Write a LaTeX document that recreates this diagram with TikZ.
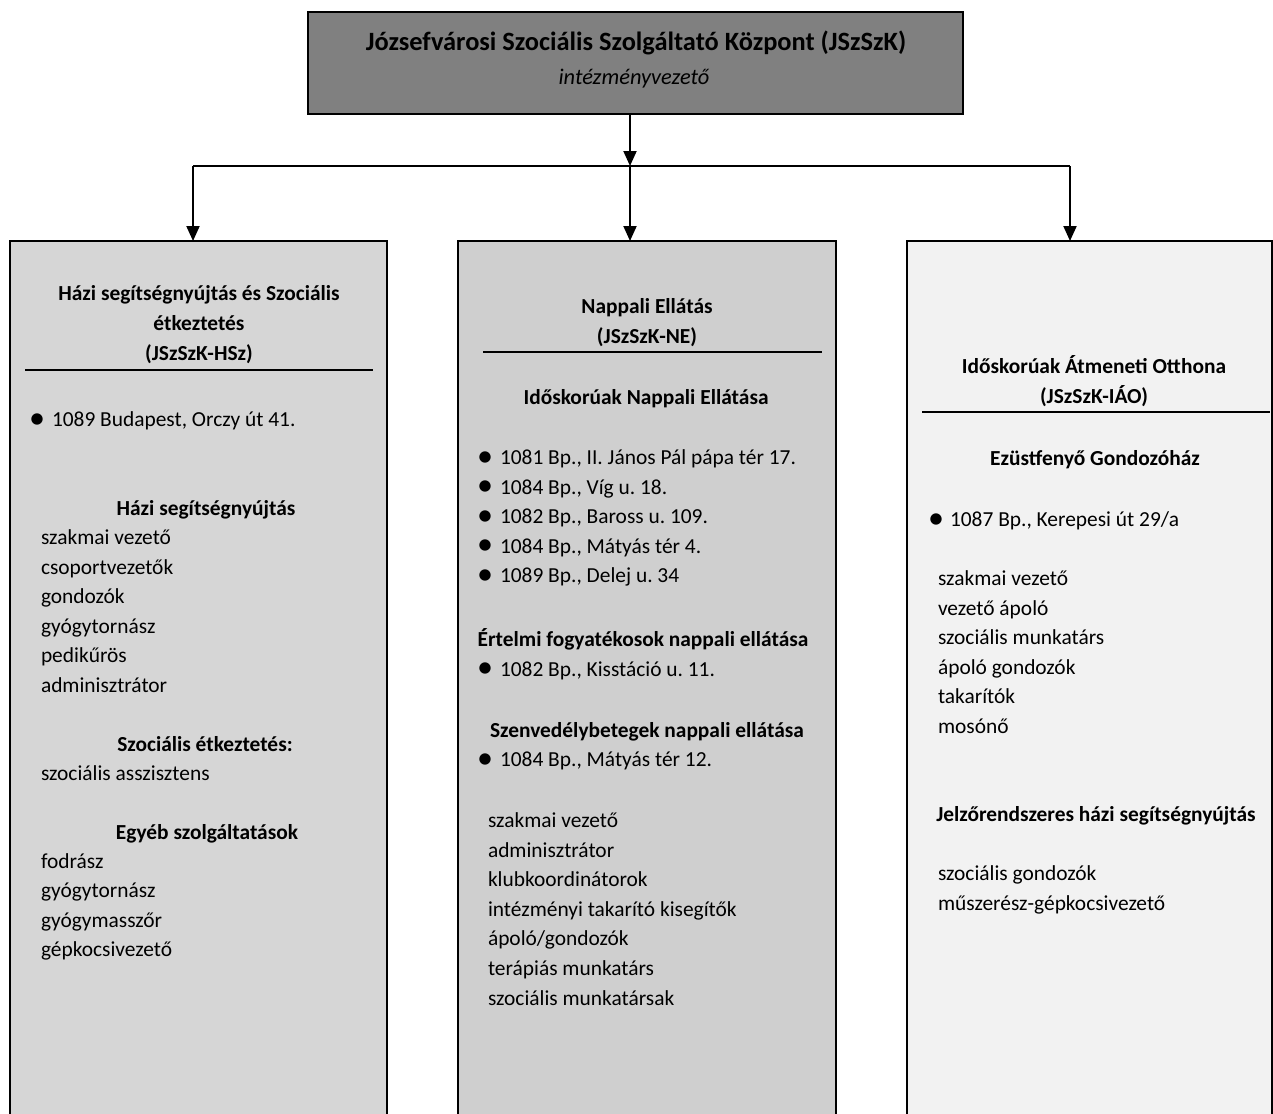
\documentclass[tikz,border=0pt]{standalone}
\usepackage{fontspec}
\usepackage{graphicx}
\setmainfont{Carlito}
\usetikzlibrary{arrows.meta}
\frenchspacing
\begin{document}
\begin{tikzpicture}[x=1pt,y=-1pt,
  box/.style={draw=black, line width=2.5pt, anchor=north west, inner sep=0pt, outer sep=0pt, minimum height=960pt},
  body/.style={inner sep=0pt, outer sep=0pt, font=\fontsize{21.4}{29.6}\selectfont},
  hd/.style={inner sep=0pt, outer sep=0pt, font=\fontsize{21.4}{29.6}\selectfont\bfseries, align=center, anchor=base},
  lst/.style={body, align=left, anchor=base west},
  arr/.style={line width=2pt, -{Triangle[length=15pt,width=13pt]}},
  sep/.style={line width=2pt}]
\useasboundingbox (0,0) rectangle (1273,1113);
\clip (0,0) rectangle (1273,1113);
\newcommand{\bul}[1]{\makebox[#1][l]{\raisebox{-1.5pt}{\scalebox{1.5}{•}}}}
% top box
\node[box, fill=black!50, minimum width=655pt, minimum height=102pt] (top) at (308,12) {};
\node[inner sep=0pt, font=\fontsize{26.4}{30}\selectfont\bfseries, anchor=base] (title) at (636,51) {Józsefvárosi Szociális Szolgáltató Központ (JSzSzK)};
\node[inner sep=0pt, font=\fontsize{22.4}{26}\selectfont\itshape, anchor=base] (sub) at (634,85) {intézményvezető};
% lower boxes
\node[box, fill=black!16, minimum width=377pt] (hsz) at (10,241) {};
\node[box, fill=black!19, minimum width=378pt] (ne) at (458,241) {};
\node[box, fill=black!5, minimum width=365pt] (iao) at (907,241) {};
% connectors
\coordinate (j) at (630,166);
\coordinate (jl) at (193,166);
\coordinate (jr) at (1070,166);
\draw[arr] (top.south -| j) -- (j);
\draw[line width=2pt] (jl) -- (jr);
\draw[arr] (jl) -- (hsz.north -| jl);
\draw[arr] (j) -- (ne.north -| j);
\draw[arr] (jr) -- (iao.north -| jr);
% left box content (multi-line nodes are placed by the baseline of their last line)
\node[hd] (h1) at (199,360) {Házi segítségnyújtás és Szociális\\étkeztetés\\(JSzSzK-HSz)};
\draw[sep] (25,370) -- (373,370);
\node[lst] (b1) at (29,426.5) {\bul{23pt}1089 Budapest, Orczy út 41.};
\node[hd] (h2) at (206,515.5) {Házi segítségnyújtás};
\node[lst] (l1) at (41,692.5) {szakmai vezető\\csoportvezetők\\gondozók\\gyógytornász\\pedikűrös\\adminisztrátor};
\node[hd] (h3) at (205,751) {Szociális étkeztetés:};
\node[lst] (l2) at (41,780) {szociális asszisztens};
\node[hd] (h4) at (207,839) {Egyéb szolgáltatások};
\node[lst] (l3) at (41,956.8) {fodrász\\gyógytornász\\gyógymasszőr\\gépkocsivezető};
% middle box content
\node[hd] (m1) at (647,343.1) {Nappali Ellátás\\(JSzSzK-NE)};
\draw[sep] (483,352) -- (822,352);
\node[hd] (m2) at (646,404.5) {Időskorúak Nappali Ellátása};
\node[lst] (mb1) at (477,582.9) {\bul{23pt}1081 Bp., II. János Pál pápa tér 17.\\\bul{23pt}1084 Bp., Víg u. 18.\\\bul{23pt}1082 Bp., Baross u. 109.\\\bul{23pt}1084 Bp., Mátyás tér 4.\\\bul{23pt}1089 Bp., Delej u. 34};
\node[hd] (m3) at (643,646.5) {Értelmi fogyatékosok nappali ellátása};
\node[lst] (mb2) at (477,676) {\bul{23pt}1082 Bp., Kisstáció u. 11.};
\node[hd] (m4) at (647,737.5) {Szenvedélybetegek nappali ellátása};
\node[lst] (mb3) at (477,766.5) {\bul{23pt}1084 Bp., Mátyás tér 12.};
\node[lst] (ml) at (488,1005.1) {szakmai vezető\\adminisztrátor\\klubkoordinátorok\\intézményi takarító kisegítők\\ápoló/gondozók\\terápiás munkatárs\\szociális munkatársak};
% right box content
\node[hd] (r1) at (1094,403.1) {Időskorúak Átmeneti Otthona\\(JSzSzK-IÁO)};
\draw[sep] (922,412) -- (1270,412);
\node[hd] (r2) at (1095,465.5) {Ezüstfenyő Gondozóház};
\node[lst] (rb) at (928,526.5) {\bul{22pt}1087 Bp., Kerepesi út 29/a};
\node[lst] (rl1) at (938,733.5) {szakmai vezető\\vezető ápoló\\szociális munkatárs\\ápoló gondozók\\takarítók\\mosónő};
\node[hd] (r3) at (1096,821.5) {Jelzőrendszeres házi segítségnyújtás};
\node[lst] (rl2) at (938,910.1) {szociális gondozók\\műszerész-gépkocsivezető};
\end{tikzpicture}
\end{document}
